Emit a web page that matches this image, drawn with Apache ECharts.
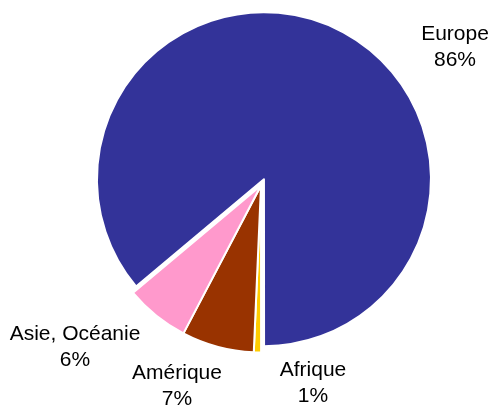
<!DOCTYPE html>
<html>
<head>
<meta charset="utf-8">
<script src="https://cdn.jsdelivr.net/npm/echarts@6/dist/echarts.min.js"></script>
<style>
  html, body { margin: 0; padding: 0; background: #fff; }
  #chart { width: 493px; height: 408px; }
</style>
</head>
<body>
<div id="chart"></div>
<script>
// Data
const categories = ['Europe', 'Afrique', 'Amérique', 'Asie, Océanie'];
const values = [86.1, 0.7, 7.0, 6.2];

// Styling / layout (not data)
const colors = ['#333399', '#FFCC00', '#993300', '#FF99CC'];
const labelPos = [[455, 47], [313, 383], [177, 386], [75, 347]];

const chart = echarts.init(document.getElementById('chart'), null, { renderer: 'canvas' });

const common = {
  type: 'pie',
  center: [261, 185.5],
  radius: [0, 167],
  startAngle: 220,
  clockwise: true,
  percentPrecision: 0,
  avoidLabelOverlap: false,
  emphasis: { disabled: true },
  animation: false
};

chart.setOption({
  animation: false,
  series: [
    Object.assign({}, common, {
      name: 'slices',
      selectedMode: 'single',
      selectedOffset: 7,
      itemStyle: { borderColor: '#ffffff', borderWidth: 2 },
      select: { itemStyle: { borderColor: '#ffffff', borderWidth: 2 } },
      label: { show: false },
      labelLine: { show: false },
      data: categories.map((name, i) => ({
        name: name,
        value: values[i],
        selected: i === 0,
        itemStyle: { color: colors[i] }
      }))
    }),
    Object.assign({}, common, {
      name: 'labels',
      silent: true,
      z: 3,
      itemStyle: { color: 'rgba(0,0,0,0)', borderWidth: 0 },
      label: {
        show: true,
        position: 'outside',
        formatter: '{b}\n{d}%',
        color: '#000000',
        fontFamily: 'Liberation Sans, Arial, sans-serif',
        fontSize: 21,
        lineHeight: 26,
        align: 'center'
      },
      labelLine: { show: false },
      labelLayout: function (params) {
        const p = labelPos[params.dataIndex];
        return { x: p[0], y: p[1], align: 'center', verticalAlign: 'middle' };
      },
      data: categories.map((name, i) => ({ name: name, value: values[i] }))
    })
  ]
});
</script>
</body>
</html>
